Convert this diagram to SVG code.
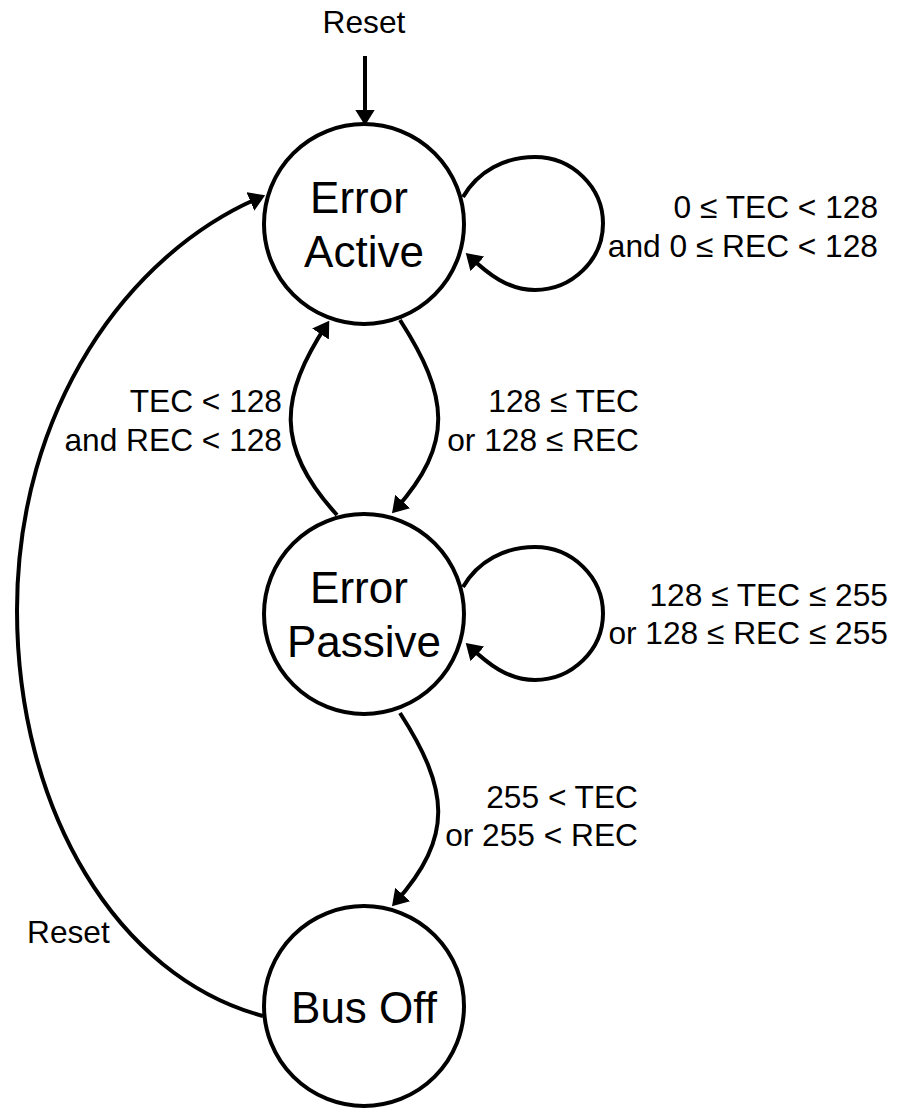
<svg xmlns="http://www.w3.org/2000/svg" width="904" height="1108" viewBox="0 0 904 1108">
  <style>
    .node { fill: #fff; stroke: #000; stroke-width: 4; }
    .edge { fill: none; stroke: #000; stroke-width: 4; marker-end: url(#arr); }
    .nt { font-family: "Liberation Sans", Arial, sans-serif; font-size: 44px; fill: #000; text-anchor: middle; }
    .lbl { font-family: "Liberation Sans", Arial, sans-serif; font-size: 31.7px; fill: #000; }
    .r { text-anchor: end; }
    .m { text-anchor: middle; }
  </style>
  <defs>
    <marker id="arr" markerUnits="userSpaceOnUse" markerWidth="17" markerHeight="21" refX="11.5" refY="10" orient="auto">
      <path d="M0,0 L16,10 L0,20 z" fill="#000"/>
    </marker>
  </defs>
  <rect width="904" height="1108" fill="#fff"/>

  <g id="connectors">
    <path id="e-reset-init" class="edge" d="M365 56 L365 121"/>
    <path id="e-active-loop" class="edge" d="M463 197 C478 171 505 157 535 157 C572 157 603 187 603 223.5 C603 260 572 290 535 290 C508 290 488 274 469 256"/>
    <path id="e-active-passive" class="edge" d="M400 320 C448.6 395.6 455 443 395 510"/>
    <path id="e-passive-active" class="edge" d="M337 515 C274 446 280 396 326.8 324.4"/>
    <path id="e-passive-loop" class="edge" d="M463 587 C478 561 505 547 535 547 C572 547 603 577 603 613.5 C603 650 572 680 535 680 C508 680 488 664 469 646"/>
    <path id="e-passive-busoff" class="edge" d="M400 713 C448.6 788.6 455 836 395 903"/>
    <path id="e-busoff-active" class="edge" d="M263 1016 C117 977 17 810 17 610 C17 410 127 253.5 261 197"/>
  </g>

  <g id="labels">
    <text class="lbl m" x="364" y="33">Reset</text>
    <text class="lbl r" x="878" y="218">0 ≤ TEC &lt; 128</text>
    <text class="lbl r" x="878" y="257">and 0 ≤ REC &lt; 128</text>
    <text class="lbl r" x="282" y="412">TEC &lt; 128</text>
    <text class="lbl r" x="282" y="451">and REC &lt; 128</text>
    <text class="lbl r" x="639" y="412">128 ≤ TEC</text>
    <text class="lbl r" x="639" y="451">or 128 ≤ REC</text>
    <text class="lbl r" x="888" y="606">128 ≤ TEC ≤ 255</text>
    <text class="lbl r" x="888" y="644">or 128 ≤ REC ≤ 255</text>
    <text class="lbl r" x="638" y="808">255 &lt; TEC</text>
    <text class="lbl r" x="638" y="846">or 255 &lt; REC</text>
    <text class="lbl" x="27" y="943">Reset</text>
  </g>

  <g id="node-error-active">
    <circle class="node" cx="364" cy="224" r="100"/>
    <text class="nt" x="359" y="213">Error</text>
    <text class="nt" x="364" y="267">Active</text>
  </g>
  <g id="node-error-passive">
    <circle class="node" cx="364" cy="614" r="100"/>
    <text class="nt" x="359" y="603">Error</text>
    <text class="nt" x="364" y="657">Passive</text>
  </g>
  <g id="node-bus-off">
    <circle class="node" cx="364" cy="1006" r="100"/>
    <text class="nt" x="364" y="1023">Bus Off</text>
  </g>
</svg>
